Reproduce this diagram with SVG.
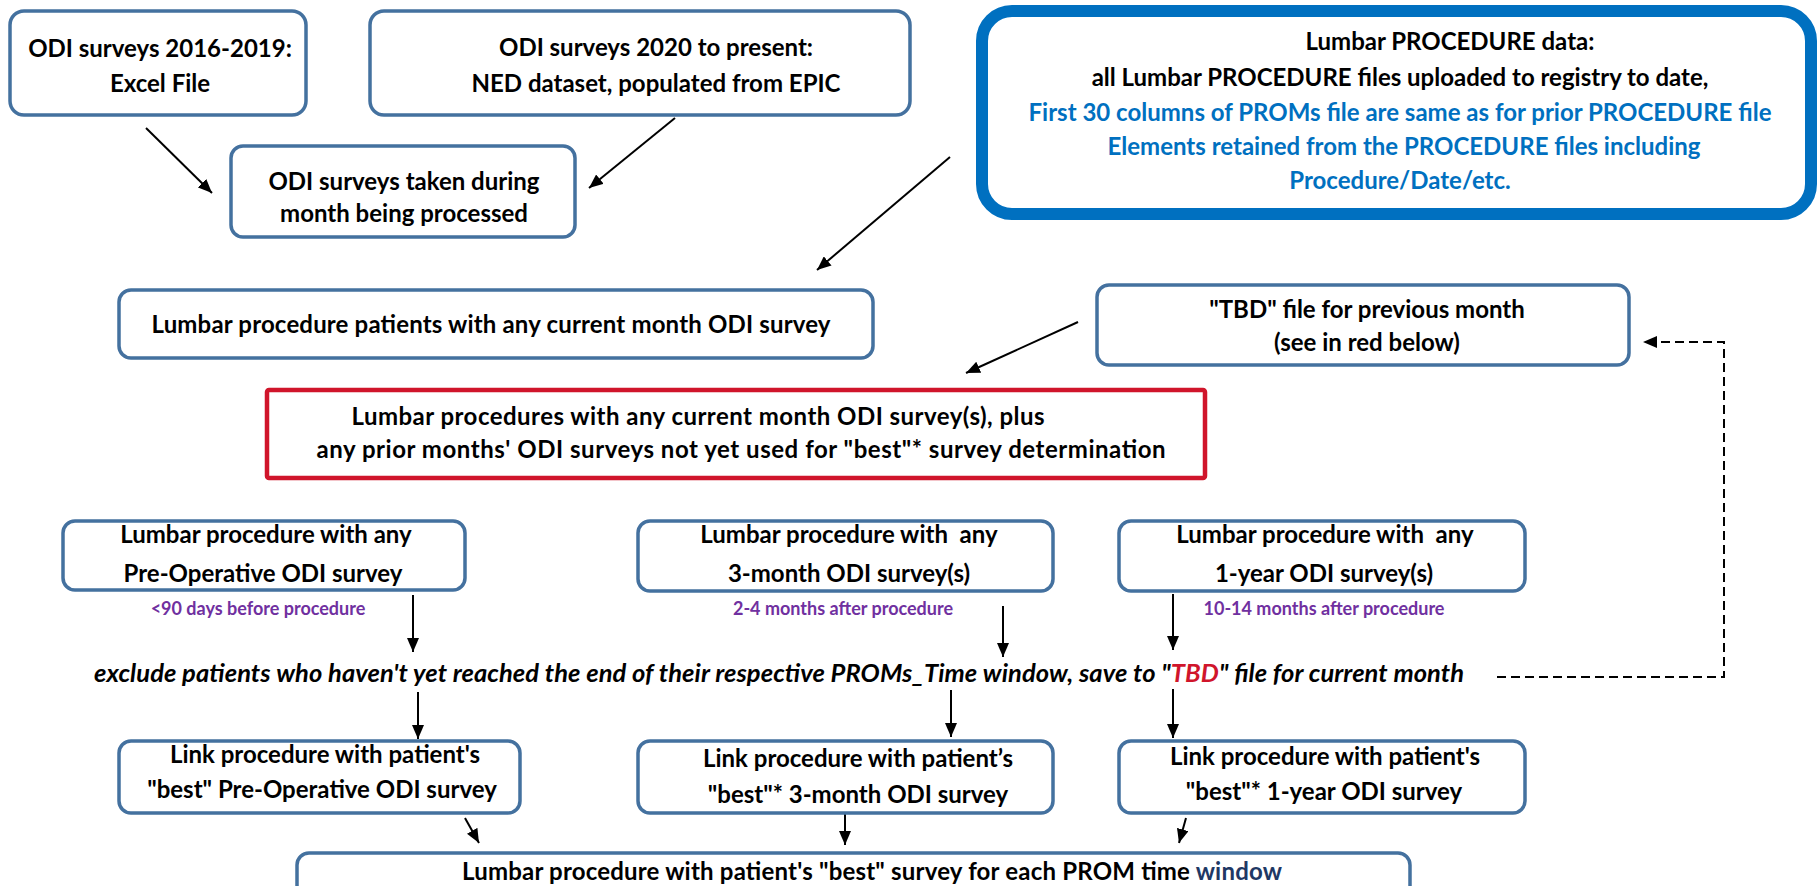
<svg xmlns="http://www.w3.org/2000/svg" width="1820" height="886" viewBox="0 0 1820 886">
<style>
.box{fill:#fff;stroke:#44719F;stroke-width:3.5}
.t{font-family:Lato,"Liberation Sans",sans-serif;font-weight:bold;font-size:24px;fill:#000;text-anchor:middle}
.blue{fill:#0070C0}
.pur{font-family:Lato,"Liberation Sans",sans-serif;font-weight:bold;font-size:18px;fill:#7030A0;text-anchor:middle}
.it{font-family:Lato,"Liberation Sans",sans-serif;font-weight:bold;font-style:italic;font-size:25.5px;fill:#000}
.c{stroke:#000;stroke-width:2;fill:none}
</style>
<defs>
<marker id="ah" viewBox="0 0 14 12" refX="14" refY="6" markerWidth="14" markerHeight="12" markerUnits="userSpaceOnUse" orient="auto">
<path d="M0,0 L14,6 L0,12 z" fill="#000"/>
</marker>
</defs>
<rect width="1820" height="886" fill="#fff"/>

<g id="connectors">
<line class="c" x1="146" y1="128" x2="212" y2="193" marker-end="url(#ah)"/>
<line class="c" x1="675" y1="118" x2="589" y2="188" marker-end="url(#ah)"/>
<line class="c" x1="950" y1="157" x2="817" y2="270" marker-end="url(#ah)"/>
<line class="c" x1="1078" y1="322" x2="966" y2="373" marker-end="url(#ah)"/>
<line class="c" x1="413" y1="595" x2="413" y2="652" marker-end="url(#ah)"/>
<line class="c" x1="1003" y1="606" x2="1003" y2="657" marker-end="url(#ah)"/>
<line class="c" x1="1173" y1="594" x2="1173" y2="650" marker-end="url(#ah)"/>
<line class="c" x1="418" y1="692" x2="418" y2="739" marker-end="url(#ah)"/>
<line class="c" x1="951" y1="690" x2="951" y2="737" marker-end="url(#ah)"/>
<line class="c" x1="1173" y1="689" x2="1173" y2="738" marker-end="url(#ah)"/>
<line class="c" x1="465" y1="818" x2="479" y2="843" marker-end="url(#ah)"/>
<line class="c" x1="845" y1="813" x2="845" y2="845" marker-end="url(#ah)"/>
<line class="c" x1="1186" y1="818" x2="1179" y2="843" marker-end="url(#ah)"/>
<path class="c" d="M1497,677 L1724,677 L1724,342 L1643,342" stroke-dasharray="9,5" marker-end="url(#ah)"/>
</g>

<g id="n1">
<rect class="box" x="10" y="11" width="296" height="104" rx="14"/>
<text class="t" x="160" y="57">ODI surveys 2016-2019:</text>
<text class="t" x="160" y="92">Excel File</text>
</g>

<g id="n2">
<rect class="box" x="370" y="11" width="540" height="104" rx="14"/>
<text class="t" x="656" y="56">ODI surveys 2020 to present:</text>
<text class="t" x="656" y="92">NED dataset, populated from EPIC</text>
</g>

<g id="n3">
<rect class="box" x="231" y="146" width="344" height="91" rx="12"/>
<text class="t" x="404" y="190">ODI surveys taken during</text>
<text class="t" x="404" y="222">month being processed</text>
</g>

<g id="n4">
<rect x="982" y="11" width="829" height="203" rx="30" fill="#fff" stroke="#0070C0" stroke-width="12"/>
<text class="t" x="1450" y="50">Lumbar PROCEDURE data:</text>
<text class="t" x="1400" y="86">all Lumbar PROCEDURE files uploaded to registry to date,</text>
<text class="t blue" x="1400" y="121">First 30 columns of PROMs file are same as for prior PROCEDURE file</text>
<text class="t blue" x="1404" y="155">Elements retained from the PROCEDURE files including</text>
<text class="t blue" x="1400" y="189">Procedure/Date/etc.</text>
</g>

<g id="n5">
<rect class="box" x="119" y="290" width="754" height="68" rx="12"/>
<text class="t" x="491" y="333" textLength="679">Lumbar procedure patients with any current month ODI survey</text>
</g>

<g id="n6">
<rect class="box" x="1097" y="285" width="532" height="80" rx="12"/>
<text class="t" x="1367" y="318">"TBD" file for previous month</text>
<text class="t" x="1367" y="351">(see in red below)</text>
</g>

<g id="n7">
<rect x="267" y="390" width="938" height="88" rx="2" fill="#fff" stroke="#D0152B" stroke-width="4.5"/>
<text class="t" x="698" y="425" textLength="693">Lumbar procedures with any current month ODI survey(s), plus</text>
<text class="t" x="741" y="458" textLength="849">any prior months' ODI surveys not yet used for "best"* survey determination</text>
</g>

<g id="n8">
<rect class="box" x="63" y="521" width="402" height="69" rx="12"/>
<text class="t" x="266" y="543">Lumbar procedure with any</text>
<text class="t" x="263" y="582">Pre-Operative ODI survey</text>
<text class="pur" x="258" y="615">&lt;90 days before procedure</text>
</g>

<g id="n9">
<rect class="box" x="638" y="521" width="415" height="70" rx="12"/>
<text class="t" x="849" y="543" xml:space="preserve">Lumbar procedure with  any</text>
<text class="t" x="849" y="582">3-month ODI survey(s)</text>
<text class="pur" x="843" y="615">2-4 months after procedure</text>
</g>

<g id="n10">
<rect class="box" x="1119" y="521" width="406" height="70" rx="12"/>
<text class="t" x="1325" y="543" xml:space="preserve">Lumbar procedure with  any</text>
<text class="t" x="1324" y="582">1-year ODI survey(s)</text>
<text class="pur" x="1324" y="615">10-14 months after procedure</text>
</g>

<g id="n11">
<text class="it" x="94" y="682" textLength="1370">exclude patients who haven't yet reached the end of their respective PROMs_Time window, save to "<tspan fill="#D0152B">TBD</tspan>" file for current month</text>
</g>

<g id="n12">
<rect class="box" x="119" y="741" width="401" height="72" rx="12"/>
<text class="t" x="325" y="763">Link procedure with patient's</text>
<text class="t" x="322" y="798">"best" Pre-Operative ODI survey</text>
</g>

<g id="n13">
<rect class="box" x="638" y="741" width="415" height="72" rx="12"/>
<text class="t" x="858" y="767">Link procedure with patient’s</text>
<text class="t" x="858" y="803">"best"* 3-month ODI survey</text>
</g>

<g id="n14">
<rect class="box" x="1119" y="741" width="406" height="72" rx="12"/>
<text class="t" x="1325" y="765">Link procedure with patient's</text>
<text class="t" x="1324" y="800">"best"* 1-year ODI survey</text>
</g>

<g id="n15">
<rect class="box" x="297" y="853" width="1113" height="60" rx="12"/>
<text class="t" x="872" y="880" textLength="820">Lumbar procedure with patient's "best" survey for each PROM time <tspan fill="#1F3864">window</tspan></text>
</g>
</svg>
